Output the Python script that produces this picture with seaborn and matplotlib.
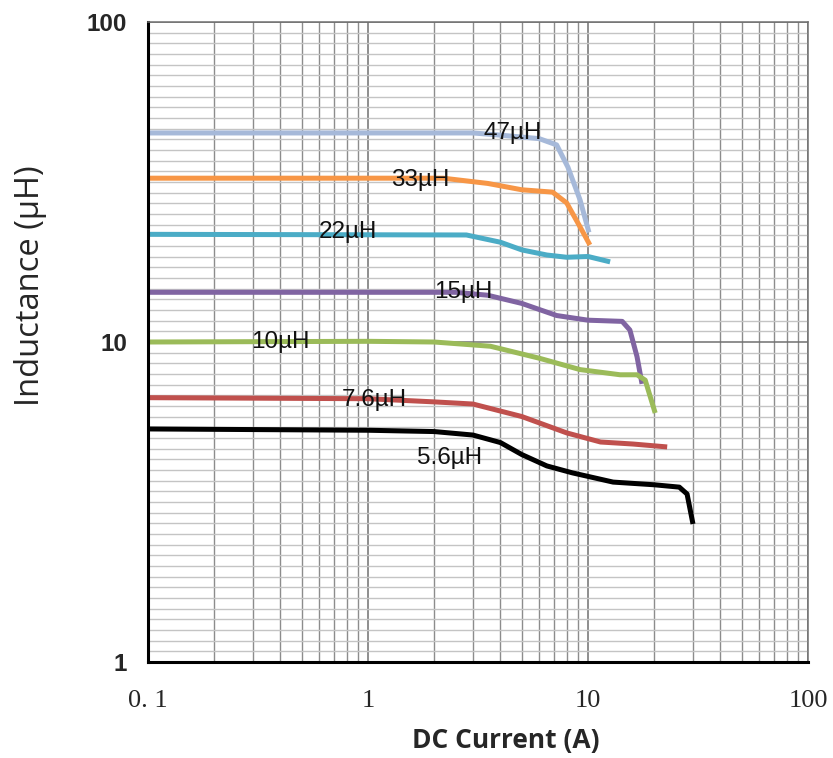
import numpy as np
import pandas as pd
import matplotlib
matplotlib.use("Agg")
import matplotlib.pyplot as plt
import matplotlib.ticker as mticker
import seaborn as sns

# inductance curves (x in A, y in uH)
cur_47 = [0.1, 3, 4, 6, 7.2, 8.1, 9.2, 10.1]
ind_47 = [45, 45, 44.3, 43.2, 41.3, 35.2, 27.8, 22]

cur_33 = [0.1, 2.2, 3.5, 5, 6.9, 8, 9.2, 10.2]
ind_33 = [32.5, 32.5, 31.3, 29.9, 29.4, 27.2, 22.9, 20.1]

cur_22 = [0.1, 2.8, 4, 5, 6.5, 8, 10, 12.6]
ind_22 = [21.7, 21.6, 20.5, 19.4, 18.7, 18.4, 18.5, 17.8]

cur_15 = [0.1, 2.5, 3.5, 5, 7.2, 10, 14.3, 15.5, 16.7, 17.6]
ind_15 = [14.3, 14.3, 14.0, 13.2, 12.1, 11.7, 11.6, 10.9, 9.0, 7.4]

cur_10 = [0.1, 1, 2, 3.6, 6, 9.2, 14, 16.7, 18.2, 20.2]
ind_10 = [10, 10.05, 10, 9.7, 8.9, 8.2, 7.9, 7.9, 7.6, 6.0]

cur_76 = [0.1, 1, 2, 3, 5, 8, 11.4, 16, 22.9]
ind_76 = [6.7, 6.65, 6.5, 6.4, 5.85, 5.2, 4.87, 4.8, 4.7]

cur_56 = [0.1, 1, 2, 3, 4, 5, 6.5, 8.5, 13, 20, 26, 28.2, 30]
ind_56 = [5.35, 5.3, 5.25, 5.12, 4.85, 4.45, 4.1, 3.9, 3.65, 3.58, 3.52, 3.35, 2.7]

names = ["47µH", "33µH", "22µH", "15µH", "10µH", "7.6µH", "5.6µH"]
colors = ["#a6b9d9", "#f79646", "#4bacc6", "#8064a2", "#9bbb59", "#c0504d", "#000000"]
label_x = [4.56, 1.72, 0.81, 2.7, 0.4, 1.07, 2.36]
label_y = [45, 32, 22, 14.3, 10, 6.6, 4.34]

series = [(cur_47, ind_47), (cur_33, ind_33), (cur_22, ind_22), (cur_15, ind_15),
          (cur_10, ind_10), (cur_76, ind_76), (cur_56, ind_56)]

rows = []
for name, (xs, ys) in zip(names, series):
    for xv, yv in zip(xs, ys):
        rows.append({"curve": name, "current": xv, "inductance": yv})
df = pd.DataFrame(rows)

sns.set_style("white")
fig = plt.figure(figsize=(8.33, 7.58), dpi=100)
ax = fig.add_axes([0.1777, 0.1266, 0.7923, 0.8444])

ax.set_xscale("log")
ax.set_yscale("log")
ax.set_xlim(0.1, 100)
ax.set_ylim(1, 100)

# grid
ax.xaxis.set_minor_locator(mticker.LogLocator(base=10, subs=np.arange(2, 10)))
ygrid = [v for v in np.logspace(0, 2, 61) if not np.isclose(np.log10(v) % 1, 0)]
ax.yaxis.set_minor_locator(mticker.FixedLocator(ygrid))
ax.xaxis.set_minor_formatter(mticker.NullFormatter())
ax.yaxis.set_minor_formatter(mticker.NullFormatter())
ax.grid(which="minor", axis="x", color="#8c8c8c", linewidth=1.0)
ax.grid(which="minor", axis="y", color="#c4c4c4", linewidth=1.0)
ax.grid(which="major", axis="both", color="#707070", linewidth=1.1)
ax.set_axisbelow(True)

for name, col in zip(names, colors):
    sns.lineplot(data=df[df["curve"] == name], x="current", y="inductance",
                 sort=False, color=col, linewidth=3.6, ax=ax,
                 solid_capstyle="butt", solid_joinstyle="round", legend=False)

for name, lx, ly in zip(names, label_x, label_y):
    ax.text(lx, ly, name, ha="center", va="center", fontsize=17.5,
            family="Liberation Sans", color="#111111")

# ticks
ax.xaxis.set_major_locator(mticker.FixedLocator([0.1, 1, 10, 100]))
ax.xaxis.set_major_formatter(mticker.FixedFormatter(["0. 1", "1", "10", "100"]))
ax.yaxis.set_major_locator(mticker.FixedLocator([1, 10, 100]))
ax.yaxis.set_major_formatter(mticker.FixedFormatter(["1", "10", "100"]))
ax.tick_params(axis="x", which="major", direction="in", length=5, width=1.2,
               color="black", pad=20, labelsize=19)
ax.tick_params(axis="y", which="major", direction="in", length=0, pad=15, labelsize=17.5)
ax.tick_params(which="minor", length=0)
for t in ax.get_xticklabels():
    t.set_family("Liberation Serif")
for t in ax.get_yticklabels():
    t.set_family("Liberation Sans")
    t.set_fontweight("bold")

for side in ["left", "bottom"]:
    ax.spines[side].set_color("black")
    ax.spines[side].set_linewidth(2.2)
for side in ["top", "right"]:
    ax.spines[side].set_color("#707070")
    ax.spines[side].set_linewidth(1.1)

ax.set_xlabel("DC Current (A)", fontsize=19, fontweight="bold", family="Open Sans")
ax.xaxis.set_label_coords(0.542, -0.102)
ax.set_ylabel("Inductance (µH)", fontsize=23.5, family="Open Sans")
ax.yaxis.set_label_coords(-0.153, 0.5875)

fig.savefig("out.png", dpi=100)
